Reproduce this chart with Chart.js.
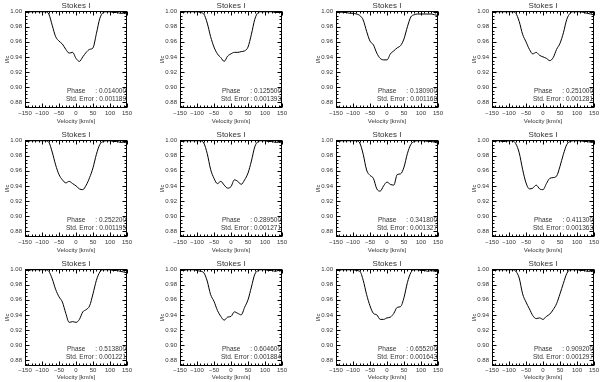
<!DOCTYPE html>
<html><head><meta charset="utf-8">
<script src="https://cdn.jsdelivr.net/npm/chart.js@4"></script>
<style>
html,body{margin:0;padding:0;background:#fff;overflow:hidden;width:600px;height:382px;position:relative}
canvas{position:absolute}
</style></head><body>
<script>
const velocity = [-150,-140,-130,-120,-110,-100,-90,-80,-70,-60,-50,-40,-30,-20,-10,0,10,20,30,40,50,60,70,80,90,100,110,120,130,140,150];
const p01 = [1.000,1.000,1.000,1.000,1.000,1.000,1.000,0.997,0.982,0.967,0.961,0.957,0.950,0.945,0.946,0.938,0.934,0.940,0.946,0.950,0.952,0.971,0.991,0.999,1.000,1.000,0.999,0.999,0.998,0.998,0.997];
const p02 = [1.000,1.000,1.000,1.000,1.000,1.000,0.999,0.997,0.985,0.967,0.953,0.944,0.939,0.934,0.941,0.944,0.946,0.946,0.947,0.948,0.953,0.970,0.990,0.999,1.000,1.000,1.000,1.000,0.999,0.999,0.999];
const p03 = [1.000,1.000,0.999,0.999,0.998,0.998,0.997,0.995,0.989,0.974,0.961,0.956,0.945,0.938,0.936,0.936,0.944,0.948,0.952,0.955,0.964,0.980,0.993,0.996,0.997,0.997,0.997,0.997,0.997,0.996,0.995];
const p04 = [1.000,1.000,1.000,1.000,1.000,1.000,1.000,0.998,0.987,0.970,0.960,0.950,0.944,0.946,0.942,0.940,0.938,0.935,0.939,0.950,0.958,0.972,0.990,0.998,1.000,1.000,1.000,0.999,0.998,0.997,0.996];
const p05 = [1.000,1.000,1.000,1.000,1.000,1.000,1.000,0.998,0.985,0.968,0.955,0.948,0.944,0.946,0.943,0.940,0.936,0.935,0.941,0.951,0.964,0.982,0.995,0.999,1.000,1.000,0.999,0.999,0.998,0.998,0.997];
const p06 = [1.000,1.000,1.000,1.000,1.000,1.000,1.000,0.997,0.983,0.962,0.950,0.943,0.946,0.941,0.937,0.939,0.948,0.946,0.942,0.948,0.957,0.973,0.992,0.999,1.000,1.000,0.999,0.999,0.998,0.998,0.997];
const p07 = [1.000,1.000,1.000,1.000,1.000,1.000,1.000,0.997,0.982,0.961,0.954,0.950,0.936,0.933,0.940,0.945,0.942,0.941,0.955,0.956,0.965,0.983,0.995,0.999,1.000,1.000,1.000,0.999,0.999,0.998,0.997];
const p08 = [1.000,1.000,1.000,0.999,0.999,1.000,1.000,0.996,0.984,0.962,0.944,0.936,0.937,0.941,0.936,0.935,0.943,0.950,0.951,0.953,0.966,0.982,0.995,0.999,1.000,1.000,1.000,0.999,0.999,0.998,0.998];
const p09 = [0.999,0.999,1.000,1.000,1.000,1.000,1.000,0.998,0.988,0.974,0.964,0.957,0.942,0.930,0.931,0.930,0.934,0.944,0.947,0.952,0.968,0.986,0.997,1.000,1.000,1.000,0.999,0.999,0.998,0.997,0.996];
const p10 = [0.999,0.999,1.000,1.000,1.000,0.999,0.998,0.996,0.985,0.967,0.958,0.946,0.938,0.933,0.937,0.938,0.944,0.942,0.940,0.950,0.960,0.977,0.994,0.999,1.000,1.000,0.999,0.999,0.998,0.999,0.998];
const p11 = [1.000,1.000,1.000,1.000,1.000,1.000,0.999,0.998,0.986,0.967,0.952,0.942,0.940,0.934,0.934,0.936,0.937,0.942,0.950,0.951,0.963,0.983,0.996,1.000,1.000,0.999,0.999,0.998,0.999,0.998,0.998];
const p12 = [1.000,1.000,1.000,1.000,1.000,1.000,1.000,0.998,0.989,0.968,0.957,0.948,0.939,0.935,0.936,0.934,0.938,0.941,0.947,0.955,0.968,0.982,0.995,1.000,1.000,1.000,0.999,0.999,0.998,0.998,0.997];
const profiles = [p01,p02,p03,p04,p05,p06,p07,p08,p09,p10,p11,p12];
const phases = ['0.014000','0.125500','0.180900','0.251000','0.252200','0.289500','0.341800','0.411300','0.513800','0.604600','0.655200','0.909200'];
const stdErrors = ['0.001189','0.001393','0.001168','0.001281','0.001195','0.001271','0.001327','0.001363','0.001221','0.001884','0.001643','0.001297'];
const xTicks = [-150,-100,-50,0,50,100,150];
const yTicks = [0.88,0.90,0.92,0.94,0.96,0.98,1.00];
const xMinorStep = 10;
const yMinorStep = 0.005;

const FONT = '"Liberation Sans", Arial, sans-serif';
const TXT = '#333';
const colLeft = [25,180,336,492];
const rowTop = [11,140,269];

const framePlugin = {
  id: 'frame',
  afterDraw(chart) {
    const {ctx, chartArea: a, scales: {x, y}} = chart;
    const idx = chart.options.plugins.frame.index;
    ctx.save();
    ctx.strokeStyle = '#000';
    ctx.lineWidth = 1;
    const L = Math.round(a.left) + 0.5, R = Math.round(a.right) - 0.5;
    const T = Math.round(a.top) + 0.5, B = Math.round(a.bottom) - 0.5;
    ctx.strokeRect(L, T, R - L, B - T);
    ctx.beginPath();
    for (let v = -150; v <= 150; v += xMinorStep) {
      const px = Math.round(x.getPixelForValue(v)) + 0.5;
      const len = (v % 50 === 0) ? 4 : 2;
      ctx.moveTo(px, B); ctx.lineTo(px, B - len);
      ctx.moveTo(px, T); ctx.lineTo(px, T + len);
    }
    for (let k = 0; ; k++) {
      const v = 0.875 + k * yMinorStep;
      if (v > 1.0005) break;
      const py = Math.round(y.getPixelForValue(v)) + 0.5;
      const major = Math.abs(Math.round(v * 50) - v * 50) < 1e-6;
      const len = major ? 4 : 2;
      ctx.moveTo(L, py); ctx.lineTo(L + len, py);
      ctx.moveTo(R, py); ctx.lineTo(R - len, py);
    }
    ctx.stroke();
    ctx.fillStyle = TXT;
    ctx.textBaseline = 'middle';
    ctx.textAlign = 'center';
    ctx.font = '8px ' + FONT;
    ctx.fillText('Stokes I', (a.left + a.right) / 2, a.top - 5.5);
    ctx.font = '6.5px ' + FONT;
    ctx.textAlign = 'left';
    ctx.fillText('Phase', a.left + 42, a.bottom - 17);
    ctx.fillText('Std. Error', a.left + 41, a.bottom - 9);
    ctx.textAlign = 'right';
    ctx.fillText(': ' + phases[idx], a.right - 1, a.bottom - 17);
    ctx.fillText(': ' + stdErrors[idx], a.right - 1, a.bottom - 9);
    ctx.restore();
  }
};

profiles.forEach((prof, i) => {
  const r = Math.floor(i / 4), c = i % 4;
  const cv = document.createElement('canvas');
  cv.width = 137; cv.height = 128;
  cv.style.left = (colLeft[c] - 25) + 'px';
  cv.style.top = (rowTop[r] - 11) + 'px';
  cv.style.width = '137px'; cv.style.height = '128px';
  document.body.appendChild(cv);
  const lastRow = r === 2;
  new Chart(cv, {
    type: 'line',
    data: {
      datasets: [{
        data: velocity.map((v, j) => ({x: v, y: prof[j]})),
        borderColor: '#000',
        borderWidth: 1,
        pointRadius: 0,
        fill: false,
        cubicInterpolationMode: 'monotone'
      }]
    },
    options: {
      responsive: false,
      animation: false,
      events: [],
      devicePixelRatio: 1,
      layout: {padding: {top: 11, right: 10, left: 0, bottom: 0}},
      plugins: {legend: {display: false}, tooltip: {enabled: false}, title: {display: false}, frame: {index: i}},
      scales: {
        x: {
          type: 'linear', min: -150, max: 150,
          afterBuildTicks: s => { s.ticks = xTicks.map(v => ({value: v})); },
          afterFit: s => { s.height = 20; },
          grid: {display: false, drawTicks: false},
          border: {display: false},
          ticks: {autoSkip: false, maxRotation: 0, padding: lastRow ? 1 : 2, color: TXT,
            font: {family: FONT, size: 6, lineHeight: 1},
            callback: v => (v < 0 ? '\u2212' + Math.abs(v) : String(v))},
          title: {display: true, text: 'Velocity [km/s]', color: TXT,
            font: {family: FONT, size: 6, lineHeight: 1}, padding: {top: 0, bottom: lastRow ? 6 : 4}}
        },
        y: {
          type: 'linear', min: 0.872, max: 1.001,
          afterBuildTicks: s => { s.ticks = yTicks.map(v => ({value: v})); },
          afterFit: s => { s.width = 25; },
          grid: {display: false, drawTicks: false},
          border: {display: false},
          ticks: {autoSkip: false, padding: 3, color: TXT,
            font: {family: FONT, size: 6, lineHeight: 1},
            callback: v => Number(v).toFixed(2)},
          title: {display: true, text: 'I/Ic', color: TXT,
            font: {family: FONT, size: 6, lineHeight: 1}, padding: {top: 4, bottom: 0}}
        }
      }
    },
    plugins: [framePlugin]
  });
});
</script>
</body></html>
